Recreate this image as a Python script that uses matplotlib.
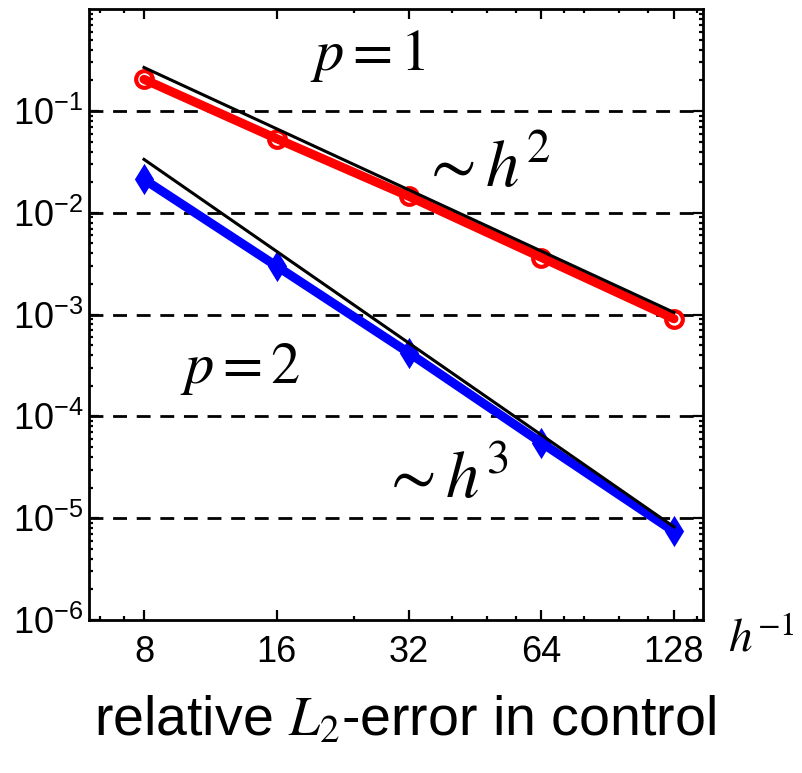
import matplotlib
matplotlib.use("Agg")
import matplotlib.pyplot as plt
from matplotlib.ticker import FixedLocator, FixedFormatter, LogLocator, NullFormatter

plt.rcParams['font.family'] = ['Liberation Sans', 'DejaVu Sans']
plt.rcParams['mathtext.fontset'] = 'custom'
plt.rcParams['mathtext.rm'] = 'Liberation Sans'
plt.rcParams['mathtext.it'] = 'Liberation Sans:italic'
plt.rcParams['mathtext.bf'] = 'Liberation Sans:bold'

# ---- data ----
h_inv = [8, 16, 32, 64, 128]
err_p1 = [0.205, 0.0536, 0.0145, 0.00364, 0.00091]
err_p2 = [0.0213, 0.0030, 4.2e-4, 5.5e-5, 7.4e-6]
ref_x = [8, 128]
ref_p1 = [0.268, 0.00105]      # ~h^2 slope line
ref_p2 = [0.0335, 8.2e-6]      # ~h^3 slope line
xtick_labels = ['8', '16', '32', '64', '128']
ytick_vals = [1e-6, 1e-5, 1e-4, 1e-3, 1e-2, 1e-1]
ytick_labels = [r'$\mathdefault{10^{-6}}$', r'$\mathdefault{10^{-5}}$', r'$\mathdefault{10^{-4}}$',
                r'$\mathdefault{10^{-3}}$', r'$\mathdefault{10^{-2}}$', r'$\mathdefault{10^{-1}}$']
x_minor = [6.35, 7.2, 24, 40, 48, 56, 72, 80, 96, 112, 144]

fig = plt.figure(figsize=(8.02, 7.73), dpi=100)
ax = fig.add_axes([0.111, 0.198, 0.7656, 0.79])
ax.set_xscale('log', base=2)
ax.set_yscale('log')
ax.set_xlim(6.0, 149)
ax.set_ylim(1e-6, 1.0)

# dashed horizontal grid
for yv in ytick_vals[1:]:
    ax.axhline(yv, color='black', lw=2.0, ls=(0, (5, 3.5)), zorder=1)

ax.plot(h_inv, err_p1, color='#ff0000', lw=6.5, marker='o', ms=12, mew=3,
        mfc='none', mec='#ff0000', zorder=3, solid_capstyle='round')
ax.plot(h_inv, err_p2, color='#0000ff', lw=6.5, marker='d', ms=13, mew=2,
        mfc='#0000ff', mec='#0000ff', zorder=3, solid_capstyle='round')
ax.plot(ref_x, ref_p1, color='black', lw=2.2, zorder=4)
ax.plot(ref_x, ref_p2, color='black', lw=2.2, zorder=4)

ax.xaxis.set_major_locator(FixedLocator(h_inv))
ax.xaxis.set_major_formatter(FixedFormatter(xtick_labels))
ax.xaxis.set_minor_locator(FixedLocator(x_minor))
ax.xaxis.set_minor_formatter(NullFormatter())
ax.yaxis.set_major_locator(FixedLocator(ytick_vals))
ax.yaxis.set_major_formatter(FixedFormatter(ytick_labels))
ax.yaxis.set_minor_locator(LogLocator(base=10, subs=range(2, 10)))
ax.yaxis.set_minor_formatter(NullFormatter())

ax.tick_params(which='both', direction='in', top=True, right=True, width=1.6)
ax.tick_params(which='major', length=7)
ax.tick_params(which='minor', length=3)
ax.tick_params(axis='x', which='major', labelsize=26, pad=11)
ax.tick_params(axis='y', which='major', labelsize=26, pad=4)
for sp in ax.spines.values():
    sp.set_linewidth(2.0)

# annotations (Times-like)
ax.text(0.36, 0.9006, r'$p=1$', transform=ax.transAxes, fontsize=42,
        math_fontfamily='stix', va='baseline', ha='left')
ax.text(0.54, 0.709, r'$\sim h^{2}$', transform=ax.transAxes, fontsize=48,
        math_fontfamily='stix', va='baseline', ha='left')
ax.text(0.148, 0.388, r'$p=2$', transform=ax.transAxes, fontsize=42,
        math_fontfamily='stix', va='baseline', ha='left')
ax.text(0.475, 0.1998, r'$\sim h^{3}$', transform=ax.transAxes, fontsize=48,
        math_fontfamily='stix', va='baseline', ha='left')
ax.text(1.0407, -0.0524, r'$h^{-1}$', transform=ax.transAxes, fontsize=34,
        math_fontfamily='stix', va='baseline', ha='left', clip_on=False)

fig.text(0.505, 0.049, r'relative $L_2$-error in control', fontsize=40,
         math_fontfamily='stix', ha='center', va='baseline')

fig.savefig('out.png', dpi=100)
